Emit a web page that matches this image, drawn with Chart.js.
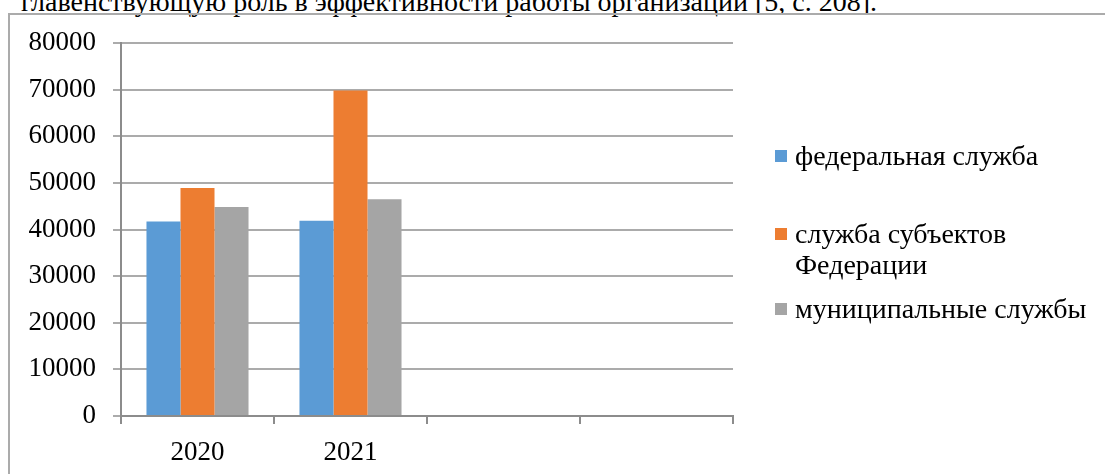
<!DOCTYPE html>
<html lang="ru">
<head>
<meta charset="utf-8">
<title>Служба</title>
<script src="https://cdn.jsdelivr.net/npm/chart.js@4.4.1/dist/chart.umd.min.js"></script>
<style>
  html, body { margin: 0; padding: 0; background: #fff; overflow: hidden; }
  body { width: 1105px; height: 474px; position: relative; }
  .line-above {
    position: absolute; right: 228px; top: -12px;
    font: 28px/28px "Liberation Serif", "Times New Roman", serif;
    white-space: nowrap; color: #000;
  }
  .frame {
    position: absolute; left: 8px; top: 13px; right: -4px; bottom: -10px;
    border-left: 2px solid #ababab; border-top: 2px solid #ababab;
  }
  #chart { position: absolute; left: 0; top: 0; }
</style>
</head>
<body>
<div class="line-above">главенствующую роль в эффективности работы организаций [5, с. 208].</div>
<div class="frame"></div>
<canvas id="chart" width="1105" height="474"></canvas>
<script>
// categories and series
const years = ['2020', '2021', '', ''];
const federal = [41700, 41900, null, null];
const regional = [48900, 69800, null, null];
const municipal = [44800, 46500, null, null];
const seriesNames = ['федеральная служба', 'служба субъектов\nФедерации', 'муниципальные службы'];
const seriesColors = ['#5b9bd5', '#ed7d31', '#a5a5a5'];

const FONT = '"Liberation Serif", "Times New Roman", serif';
Chart.defaults.font.family = FONT;
Chart.defaults.color = '#000';

// legend on the right, drawn by hand so the long name can wrap
const sideLegend = {
  id: 'sideLegend',
  afterDraw(chart, args, opts) {
    const ctx = chart.ctx;
    ctx.save();
    ctx.font = opts.size + 'px ' + FONT;
    ctx.textBaseline = 'alphabetic';
    ctx.textAlign = 'left';
    chart.data.datasets.forEach((ds, i) => {
      const base = opts.baselines[i];
      ctx.fillStyle = ds.backgroundColor;
      ctx.fillRect(opts.x, base - 15, 12, 12);
      ctx.fillStyle = '#000';
      ds.label.split('\n').forEach((line, j) => {
        ctx.fillText(line, opts.x + 20, base + j * opts.lineHeight);
      });
    });
    ctx.restore();
  }
};

const datasets = [federal, regional, municipal].map((values, i) => ({
  label: seriesNames[i],
  data: values,
  backgroundColor: seriesColors[i],
  borderWidth: 0,
  barPercentage: 1,
  categoryPercentage: 0.667
}));

new Chart(document.getElementById('chart'), {
  type: 'bar',
  data: { labels: years, datasets },
  options: {
    responsive: false,
    animation: false,
    devicePixelRatio: 1,
    layout: { padding: { left: 0, top: 43, right: 372, bottom: 0 } },
    plugins: {
      legend: { display: false },
      tooltip: { enabled: false },
      sideLegend: { x: 775, size: 28, lineHeight: 31, baselines: [165, 243, 318] }
    },
    scales: {
      x: {
        offset: true,
        grid: { offset: true, drawOnChartArea: false, tickLength: 8, color: '#8c8c8c', lineWidth: 2 },
        border: { color: '#8c8c8c', width: 2 },
        ticks: { font: { size: 27 }, padding: 13, maxRotation: 0 },
        afterFit(scale) { scale.height = 58; }
      },
      y: {
        min: 0,
        max: 80000,
        ticks: {
          stepSize: 10000,
          font: { size: 27 },
          padding: 17,
          callback: (v) => String(v)
        },
        grid: { color: '#ababab', lineWidth: 2, tickLength: 8 },
        border: { color: '#8c8c8c', width: 2 },
        afterFit(scale) { scale.width = 121; }
      }
    }
  },
  plugins: [sideLegend]
});
</script>
</body>
</html>
